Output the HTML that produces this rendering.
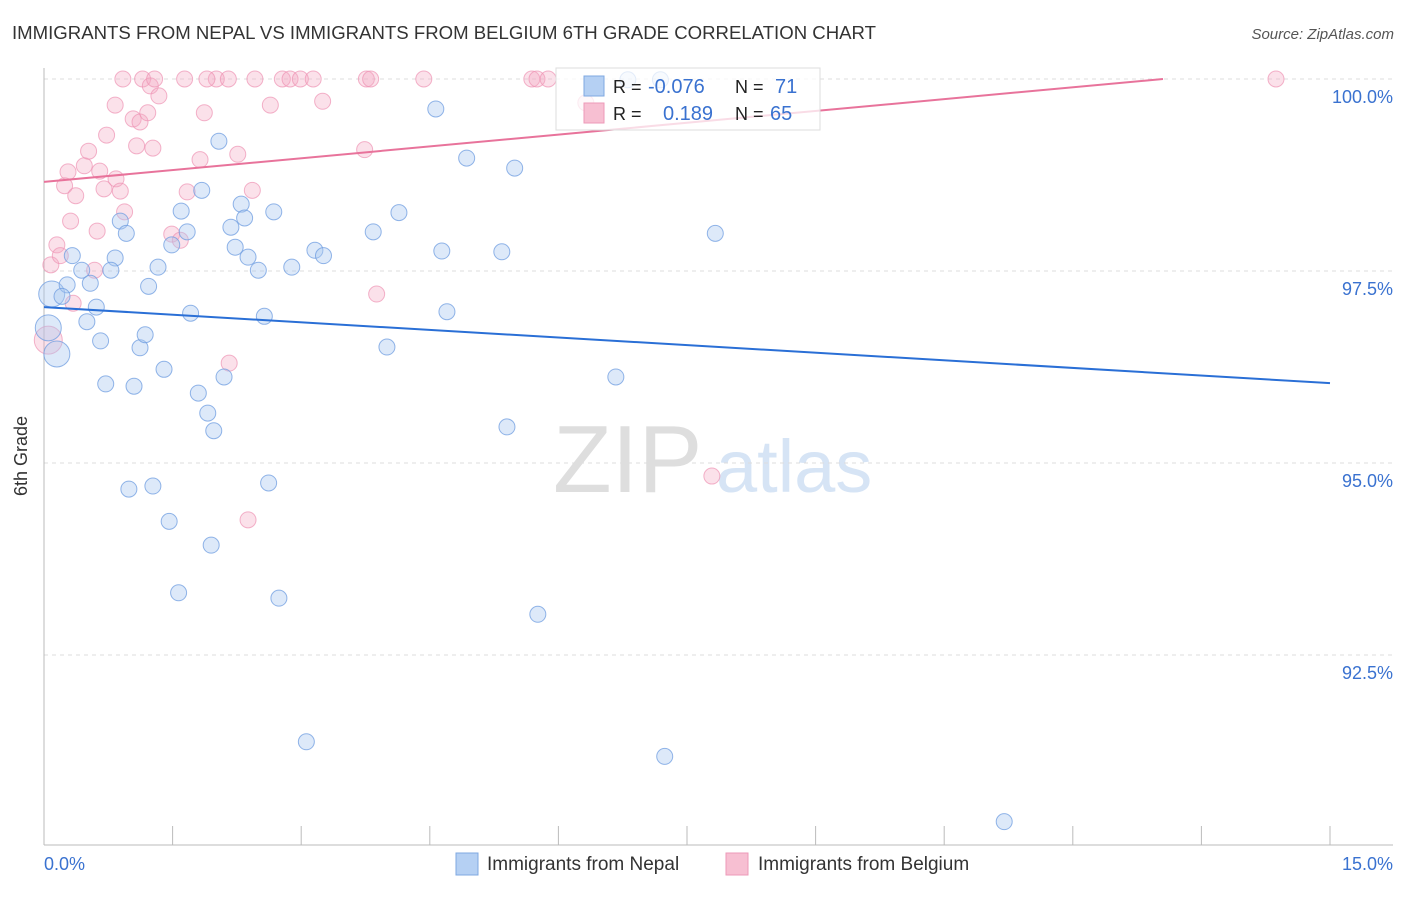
<!DOCTYPE html>
<html><head><meta charset="utf-8"><style>
body{margin:0;background:#fff;font-family:"Liberation Sans",sans-serif}
svg text{font-family:"Liberation Sans",sans-serif}
</style></head><body>
<svg id="chart" width="1406" height="892" viewBox="0 0 1406 892" xmlns="http://www.w3.org/2000/svg">
<text x="12" y="39" font-size="18.6" fill="#333">IMMIGRANTS FROM NEPAL VS IMMIGRANTS FROM BELGIUM 6TH GRADE CORRELATION CHART</text>
<text x="1394" y="39" font-size="15" fill="#555" font-style="italic" text-anchor="end">Source: ZipAtlas.com</text>
<g>
<text x="553" y="492" font-size="96" font-family="Liberation Serif,serif" fill="#dedede">ZIP</text>
<text x="716" y="492" font-size="74" fill="#d6e4f5">atlas</text>
</g>
<g id="grid"></g>
<g id="axes"></g>
<g id="pts"></g>
<g id="trends"></g>
<g>
<rect x="556" y="68" width="264" height="62" fill="#fff" fill-opacity="0.75" stroke="#ddd"/>
<rect x="584" y="76" width="20" height="20" fill="#b5d0f3" stroke="#7fa8e2"/>
<rect x="584" y="103" width="20" height="20" fill="#f7bfd2" stroke="#ee9ab8"/>
<text x="613" y="93" font-size="18" fill="#222">R =</text>
<text x="648" y="93" font-size="20" fill="#3a72d0">-0.076</text>
<text x="735" y="93" font-size="18" fill="#222">N =</text>
<text x="775" y="93" font-size="20" fill="#3a72d0">71</text>
<text x="613" y="120" font-size="18" fill="#222">R =</text>
<text x="663" y="120" font-size="20" fill="#3a72d0">0.189</text>
<text x="735" y="120" font-size="18" fill="#222">N =</text>
<text x="770" y="120" font-size="20" fill="#3a72d0">65</text>
</g>
<g>
<rect x="456" y="853" width="22" height="22" fill="#b5d0f3" stroke="#7fa8e2"/>
<text x="487" y="870" font-size="19" fill="#333">Immigrants from Nepal</text>
<rect x="726" y="853" width="22" height="22" fill="#f7bfd2" stroke="#ee9ab8"/>
<text x="758" y="870" font-size="19" fill="#333">Immigrants from Belgium</text>
</g>
<text x="27" y="456" font-size="18" fill="#333" transform="rotate(-90 27 456)" text-anchor="middle">6th Grade</text>
</svg>
<script>
const xTickLabels=["0.0%","15.0%"];
const yTicks=[100,97.5,95,92.5];
const yTickLabels=["100.0%","97.5%","95.0%","92.5%"];
const nepalX=[0.09,0.05,0.15,0.27,0.33,0.21,0.44,0.54,0.61,0.50,0.66,0.72,0.83,0.78,0.89,0.96,1.05,1.12,1.18,1.22,1.33,1.40,1.60,1.67,1.49,1.71,1.80,1.84,1.91,1.98,2.04,2.10,2.18,2.23,2.30,2.34,2.38,2.50,2.57,2.68,2.89,3.16,3.26,3.84,4.00,4.14,4.57,4.64,4.70,4.93,5.34,5.49,5.40,6.67,7.83,0.99,1.27,1.46,1.95,2.62,1.57,2.74,5.76,3.06,7.24,11.20,6.81,7.19];
const nepalY=[97.20,96.76,96.42,97.32,97.70,97.17,97.51,97.34,97.03,96.84,96.59,96.03,97.67,97.51,98.15,97.99,96.00,96.50,96.67,97.30,97.55,96.22,98.28,98.01,97.84,96.95,95.91,98.55,95.65,95.42,99.19,96.12,98.07,97.81,98.37,98.19,97.68,97.51,96.91,98.27,97.55,97.77,97.70,98.01,96.51,98.26,99.61,97.76,96.97,98.97,97.75,98.84,95.47,96.12,97.99,94.66,94.70,94.24,93.93,94.74,93.31,93.24,93.03,91.37,91.18,90.33,99.99,99.99];
const nepalW=[2,2,2];
const belgX=[0.08,0.15,0.19,0.24,0.28,0.31,0.37,0.34,0.47,0.52,0.59,0.62,0.65,0.70,0.73,0.83,0.84,0.89,0.94,1.04,1.08,1.12,1.15,1.21,1.24,1.27,1.34,1.29,1.49,1.59,1.67,1.82,1.87,2.01,2.15,2.26,2.43,2.38,2.16,2.46,2.64,2.78,2.87,2.99,3.14,3.25,3.74,3.76,3.81,3.88,4.43,5.69,5.75,5.88,6.32,7.79,14.37,0.05,1.64,0.92,1.90];
const belgY=[97.58,97.84,97.70,98.61,98.79,98.15,98.48,97.08,98.87,99.06,97.51,98.02,98.80,98.57,99.27,99.66,98.70,98.54,98.27,99.48,99.13,99.44,100,99.56,99.91,99.10,99.78,100,97.98,97.90,98.53,98.95,99.56,100,100,99.02,98.55,94.26,96.30,100,99.66,100,100,100,100,99.71,99.08,100,100,97.20,100,100,100,100,99.69,94.83,100,96.60,100,100,100];
const nepalTrend=[97.03,96.04];
const belgTrend=[98.66,100.20];

const NS="http://www.w3.org/2000/svg";
const X0=44,X1=1330,Y100=79,PPY=76.8;
const xs=v=>X0+v/15*(X1-X0);
const ys=v=>Y100+(100-v)*PPY;
function mk(tag,attrs,parent){const e=document.createElementNS(NS,tag);for(const k in attrs)e.setAttribute(k,attrs[k]);parent.appendChild(e);return e;}
const grid=document.getElementById('grid'),axes=document.getElementById('axes');
yTicks.forEach((t,i)=>{
 const l=mk('line',{x1:X0,x2:1393,y1:ys(t),y2:ys(t),stroke:'#ddd','stroke-dasharray':'4,4'},grid);
 
 
 const tx=mk('text',{x:1393,y:ys(t)+24,'font-size':18,fill:'#3a72d0','text-anchor':'end'},axes);
 tx.textContent=yTickLabels[i];
 
 
});
mk('line',{x1:X0,x2:X0,y1:68,y2:845,stroke:'#bbb'},axes);
mk('line',{x1:X0,x2:1393,y1:845,y2:845,stroke:'#bbb'},axes);
for(let i=0;i<=10;i++){const x=xs(i*1.5);const t=mk('line',{x1:x,x2:x,y1:826,y2:845,stroke:'#bbb'},axes);
 
 }
const xl0=mk('text',{x:44,y:870,'font-size':18,fill:'#3a72d0'},axes);xl0.textContent=xTickLabels[0];


const xl1=mk('text',{x:1393,y:870,'font-size':18,fill:'#3a72d0','text-anchor':'end'},axes);xl1.textContent=xTickLabels[1];


const pts=document.getElementById('pts');
belgX.forEach((v,i)=>{const r=(i===57)?14:8;
 const c=mk('circle',{cx:xs(v),cy:ys(belgY[i]),r:r,fill:'#f4aac4','fill-opacity':0.35,stroke:'#ee93b4','stroke-opacity':0.7},pts);
 
 });
nepalX.forEach((v,i)=>{const r=nepalW[i]?13:8;
 const c=mk('circle',{cx:xs(v),cy:ys(nepalY[i]),r:r,fill:'#a9c8f0','fill-opacity':0.4,stroke:'#6d9ce0','stroke-opacity':0.75},pts);
 
 });
const tr=document.getElementById('trends');
const bl=mk('line',{x1:xs(0),y1:ys(nepalTrend[0]),x2:xs(15),y2:ys(nepalTrend[1]),stroke:'#2a6fd6','stroke-width':2},tr);


const slope=(belgTrend[1]-belgTrend[0])/15;
const xEnd=Math.min(15,(100-belgTrend[0])/slope);
const pl=mk('line',{x1:xs(0),y1:ys(belgTrend[0]),x2:xs(xEnd),y2:ys(belgTrend[0]+slope*xEnd),stroke:'#e8739b','stroke-width':2},tr);


</script>
</body></html>
